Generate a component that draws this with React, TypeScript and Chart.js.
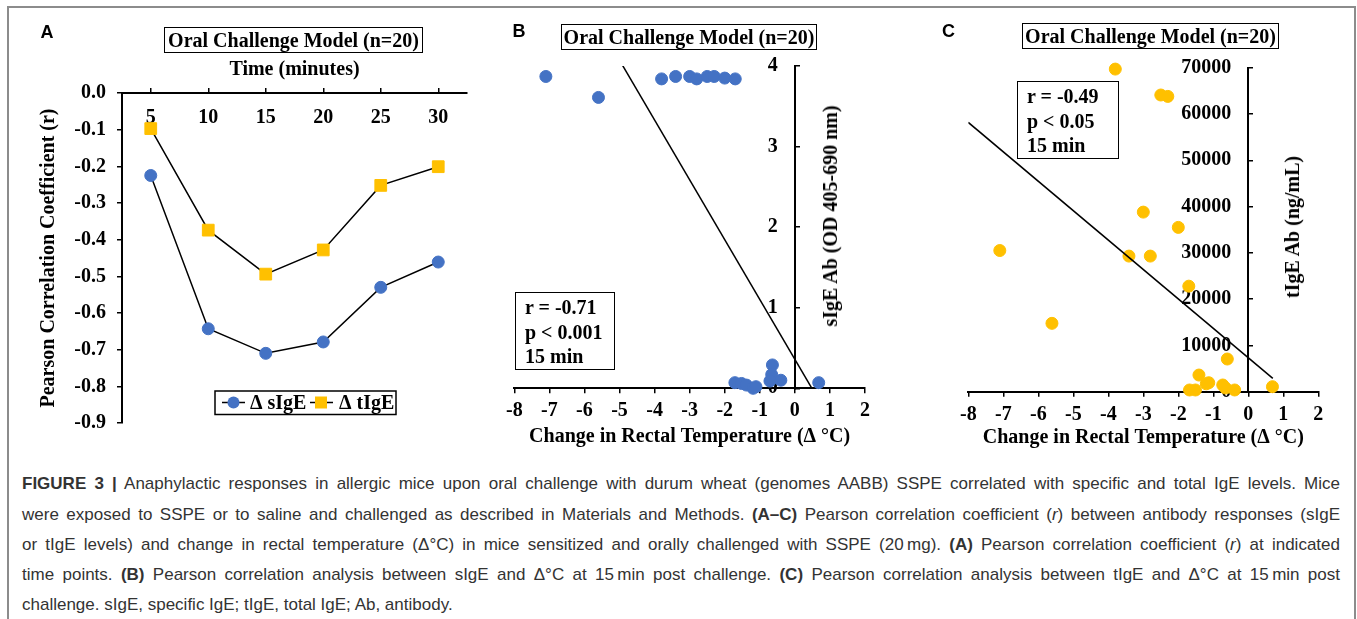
import React, { useEffect, useRef } from 'react';
import { Chart, registerables } from 'chart.js';

Chart.register(...registerables);

const SERIF = "'Liberation Serif', 'Times New Roman', serif";
const SANS = "'Liberation Sans', Arial, sans-serif";
const BLUE = '#4472C4';
const ORANGE = '#FFC000';

// ---------- Panel A data ----------
const timePoints = ['5', '10', '15', '20', '25', '30'];
const rSIgE = [-0.225, -0.643, -0.71, -0.679, -0.53, -0.461];
const rTIgE = [-0.097, -0.374, -0.494, -0.428, -0.252, -0.201];
const seriesLabels = ['Δ sIgE', 'Δ tIgE'];

// ---------- Panel B data ----------
const bTemp = [-7.1, -5.6, -3.8, -3.4, -3.0, -2.8, -2.5, -2.3, -2.0, -1.7, -1.71, -1.52, -1.38, -1.19, -1.11, -0.64, -0.66, -0.71, -0.4, 0.68];
const bSIgE = [3.87, 3.61, 3.84, 3.87, 3.87, 3.84, 3.87, 3.87, 3.85, 3.84, 0.07, 0.06, 0.04, 0.0, 0.02, 0.29, 0.17, 0.09, 0.1, 0.07];
const bTrendX = [-8, 0.7];
const bTrendY = [6.3, -0.16];

// ---------- Panel C data ----------
const cTemp = [-7.1, -5.61, -3.8, -3.41, -3.0, -2.8, -2.5, -2.3, -2.0, -1.7, -1.68, -1.51, -1.41, -1.2, -1.13, -0.73, -0.6, -0.65, -0.39, 0.69];
const cTIgE = [30500, 14770, 69700, 29300, 38800, 29300, 64100, 63800, 35500, 22800, 370, 370, 3600, 1700, 1940, 1450, 7060, 800, 370, 1080];
const cTrendX = [-8, 0.7];
const cTrendY = [58180, 2890];

const fnt = (size: number) => ({ family: SERIF, size, weight: 'bold' as const, lineHeight: 1.2 });

const boxedLegend = {
  id: 'boxedLegend',
  afterDatasetsDraw(chart: any) {
    const { ctx } = chart;
    ctx.save();
    ctx.fillStyle = '#fff';
    ctx.fillRect(215, 391, 181, 23.5);
    ctx.lineWidth = 1.5;
    ctx.strokeStyle = '#000';
    ctx.strokeRect(215, 391, 181, 23.5);
    const cy = 402.5;
    const slots = [
      { line: 222, marker: 233.5, text: 250 },
      { line: 310, marker: 321, text: 339 },
    ];
    chart.data.datasets.forEach((ds: any, i: number) => {
      const s = slots[i];
      ctx.strokeStyle = ds.borderColor;
      ctx.lineWidth = 1.5;
      ctx.beginPath();
      ctx.moveTo(s.line, cy);
      ctx.lineTo(s.line + 23, cy);
      ctx.stroke();
      ctx.fillStyle = ds.pointBackgroundColor;
      if (ds.pointStyle === 'rect') {
        ctx.fillRect(s.marker - 6, cy - 6, 12, 12);
      } else {
        ctx.beginPath();
        ctx.arc(s.marker, cy, 6, 0, Math.PI * 2);
        ctx.fill();
      }
      ctx.fillStyle = '#000';
      ctx.font = `bold 20px ${SERIF}`;
      ctx.textBaseline = 'middle';
      ctx.textAlign = 'left';
      ctx.fillText(ds.label, s.text, cy + 1);
    });
    ctx.restore();
  },
};

function configA(): any {
  return {
    type: 'line',
    data: {
      labels: timePoints,
      datasets: [
        {
          label: seriesLabels[0],
          data: rSIgE,
          borderColor: '#000',
          borderWidth: 1.5,
          pointStyle: 'circle',
          pointRadius: 6,
          pointBackgroundColor: BLUE,
          pointBorderColor: BLUE,
          pointBorderWidth: 1,
        },
        {
          label: seriesLabels[1],
          data: rTIgE,
          borderColor: '#000',
          borderWidth: 1.5,
          pointStyle: 'rect',
          pointRadius: 8.3,
          pointBackgroundColor: ORANGE,
          pointBorderColor: ORANGE,
          pointBorderWidth: 1,
        },
      ],
    },
    options: {
      responsive: false,
      animation: false,
      layout: { padding: { left: 0, top: 0, right: 13, bottom: 27 } },
      plugins: { legend: { display: false }, tooltip: { enabled: false } },
      scales: {
        x: {
          type: 'category',
          position: 'top',
          offset: true,
          afterFit: (s: any) => { s.height = 93; },
          grid: { offset: false, drawOnChartArea: false, drawTicks: true, tickLength: 5, color: '#000', lineWidth: 1.5 },
          border: { color: '#000', width: 2 },
          ticks: { font: fnt(20), color: '#000', mirror: true, padding: 13, maxRotation: 0, autoSkip: false },
          title: { display: true, text: 'Time (minutes)', font: fnt(20), color: '#000', padding: { top: 58, bottom: 0 } },
        },
        y: {
          type: 'linear',
          position: 'left',
          min: -0.9,
          max: 0,
          afterFit: (s: any) => { s.width = 122; },
          grid: { drawOnChartArea: false, tickLength: 5, color: '#000', lineWidth: 1.5 },
          border: { color: '#000', width: 2 },
          ticks: { stepSize: 0.1, font: fnt(20), color: '#000', padding: 11, callback: (v: any) => Number(v).toFixed(1) },
          title: { display: true, text: 'Pearson Correlation Coefficient (r)', font: fnt(20), color: '#000', padding: { top: 37, bottom: 0 } },
        },
      },
    },
    plugins: [boxedLegend],
  };
}

function scatterConfig(opts: {
  xs: number[]; ys: number[]; tx: number[]; ty: number[]; color: string;
  yMax: number; yStep: number; pad: any; xAxisH: number; labelPos: number; titlePadBottom: number;
}): any {
  return {
    type: 'scatter',
    data: {
      datasets: [
        {
          label: 'trend',
          data: opts.tx.map((x, i) => ({ x, y: opts.ty[i] })),
          showLine: true,
          borderColor: '#000',
          borderWidth: 1.5,
          pointRadius: 0,
          order: 0,
        },
        {
          label: 'data',
          data: opts.xs.map((x, i) => ({ x, y: opts.ys[i] })),
          pointRadius: 6,
          pointBackgroundColor: opts.color,
          pointBorderColor: opts.color,
          backgroundColor: opts.color,
          borderColor: opts.color,
          clip: false,
          order: 1,
        },
      ],
    },
    options: {
      responsive: false,
      animation: false,
      layout: { padding: opts.pad },
      plugins: { legend: { display: false }, tooltip: { enabled: false } },
      scales: {
        x: {
          type: 'linear',
          position: 'bottom',
          min: -8,
          max: 2,
          afterFit: (s: any) => { s.height = opts.xAxisH; },
          ticks: { stepSize: 1, font: fnt(20), color: '#000', padding: 6, maxRotation: 0 },
          grid: { drawOnChartArea: false, tickLength: 5, color: '#000', lineWidth: 1.5 },
          border: { color: '#000', width: 2 },
          title: { display: true, text: 'Change in Rectal Temperature (Δ °C)', font: fnt(20), color: '#000', padding: { top: 0, bottom: opts.titlePadBottom } },
        },
        y: {
          type: 'linear',
          axis: 'y',
          position: { x: 0 },
          min: 0,
          max: opts.yMax,
          ticks: { display: false, stepSize: opts.yStep },
          grid: { drawOnChartArea: false, tickLength: -6, color: '#000', lineWidth: 1.5 },
          border: { color: '#000', width: 2 },
        },
        yLab: {
          type: 'linear',
          axis: 'y',
          position: { x: opts.labelPos },
          min: 0,
          max: opts.yMax,
          ticks: { stepSize: opts.yStep, font: fnt(20), color: '#000', padding: 0, callback: (v: any) => String(v) },
          grid: { display: false },
          border: { display: false },
        },
      },
    },
  };
}

function ChartBox({ left, width, height, make }: { left: number; width: number; height: number; make: () => any }) {
  const ref = useRef<HTMLCanvasElement | null>(null);
  useEffect(() => {
    const chart = new Chart(ref.current as HTMLCanvasElement, make());
    return () => chart.destroy();
  }, []);
  return (
    <div style={{ position: 'absolute', left, top: 0, width, height }}>
      <canvas ref={ref} width={width} height={height} style={{ display: 'block' }} />
    </div>
  );
}

const titleBox = (left: number, top: number, w: number, h: number) => (
  <div
    style={{
      position: 'absolute', left, top, width: w, height: h, boxSizing: 'border-box',
      border: '1.5px solid #000', display: 'flex', alignItems: 'center', justifyContent: 'center',
      font: `bold 20px ${SERIF}`, lineHeight: 1, whiteSpace: 'nowrap', color: '#000', background: '#fff',
    }}
  >
    Oral Challenge Model (n=20)
  </div>
);

const statBox = (left: number, top: number, w: number, h: number, lines: string[]) => (
  <div
    style={{
      position: 'absolute', left, top, width: w, height: h, boxSizing: 'border-box',
      border: '1.5px solid #000', padding: '2px 0 0 9px', font: `bold 20px ${SERIF}`,
      lineHeight: '24.5px', color: '#000', whiteSpace: 'nowrap',
    }}
  >
    {lines.map((l, i) => <div key={i}>{l}</div>)}
  </div>
);

const letter = (t: string, left: number, top: number) => (
  <div style={{ position: 'absolute', left, top, font: `bold 18px ${SANS}`, lineHeight: 1, color: '#000' }}>{t}</div>
);

const yTitle = (t: string, cx: number, cy: number) => (
  <div
    style={{
      position: 'absolute', left: cx, top: cy, transform: 'translate(-50%, -50%) rotate(-90deg)',
      font: `bold 20px ${SERIF}`, lineHeight: 1, whiteSpace: 'nowrap', color: '#000',
    }}
  >
    {t}
  </div>
);

const capLine = (top: number, content: React.ReactNode, justify: boolean) => (
  <div
    style={{
      position: 'absolute', left: 22, top, width: 1318, height: 24, lineHeight: '24px',
      font: `17px ${SANS}`, color: '#333', whiteSpace: 'nowrap',
      textAlign: justify ? 'justify' : 'left', textAlignLast: justify ? 'justify' : 'left',
    } as any}
  >
    {content}
  </div>
);

export default function App() {
  const capTops = [474, 505, 535, 565, 595];
  return (
    <div style={{ position: 'absolute', left: 0, top: 0, width: 1357, height: 619, overflow: 'hidden', background: '#fff' }}>
      <div style={{ position: 'absolute', left: 7, top: 6, width: 1349, height: 700, boxSizing: 'border-box', border: '2px solid #8c8c8c' }} />

      <ChartBox left={0} width={480} height={450} make={configA} />
      <ChartBox
        left={470}
        width={420}
        height={450}
        make={() => scatterConfig({
          xs: bTemp, ys: bSIgE, tx: bTrendX, ty: bTrendY, color: BLUE, yMax: 4, yStep: 1,
          pad: { left: 44.3, right: 25, top: 66, bottom: 0 }, xAxisH: 61.7, labelPos: -0.485, titlePadBottom: 1,
        })}
      />
      <ChartBox
        left={900}
        width={440}
        height={450}
        make={() => scatterConfig({
          xs: cTemp, ys: cTIgE, tx: cTrendX, ty: cTrendY, color: ORANGE, yMax: 70000, yStep: 10000,
          pad: { left: 68.3, right: 21.7, top: 67.7, bottom: 0 }, xAxisH: 58.3, labelPos: -0.486, titlePadBottom: 0,
        })}
      />

      {letter('A', 40.5, 23)}
      {letter('B', 512.5, 22)}
      {letter('C', 942, 21.5)}

      {titleBox(164, 27, 259, 26)}
      {titleBox(561, 24, 256, 26)}
      {titleBox(1022, 23, 257, 26)}

      {statBox(515, 292, 99.5, 77.5, ['r = -0.71', 'p < 0.001', '15 min'])}
      {statBox(1017, 81, 101.5, 77.5, ['r = -0.49', 'p < 0.05', '15 min'])}

      {yTitle('sIgE Ab (OD 405-690 nm)', 830, 215.5)}
      {yTitle('tIgE Ab (ng/mL)', 1291.7, 227)}

      {capLine(capTops[0], <><b>FIGURE 3 |</b> Anaphylactic responses in allergic mice upon oral challenge with durum wheat (genomes AABB) SSPE correlated with specific and total IgE levels. Mice</>, true)}
      {capLine(capTops[1], <>were exposed to SSPE or to saline and challenged as described in Materials and Methods. <b>(A–C)</b> Pearson correlation coefficient (<i>r</i>) between antibody responses (sIgE</>, true)}
      {capLine(capTops[2], <>or tIgE levels) and change in rectal temperature (Δ°C) in mice sensitized and orally challenged with SSPE (20{'\u2009'}mg). <b>(A)</b> Pearson correlation coefficient (<i>r</i>) at indicated</>, true)}
      {capLine(capTops[3], <>time points. <b>(B)</b> Pearson correlation analysis between sIgE and Δ°C at 15{'\u2009'}min post challenge. <b>(C)</b> Pearson correlation analysis between tIgE and Δ°C at 15{'\u2009'}min post</>, true)}
      {capLine(capTops[4], <>challenge. sIgE, specific IgE; tIgE, total IgE; Ab, antibody.</>, false)}
    </div>
  );
}
